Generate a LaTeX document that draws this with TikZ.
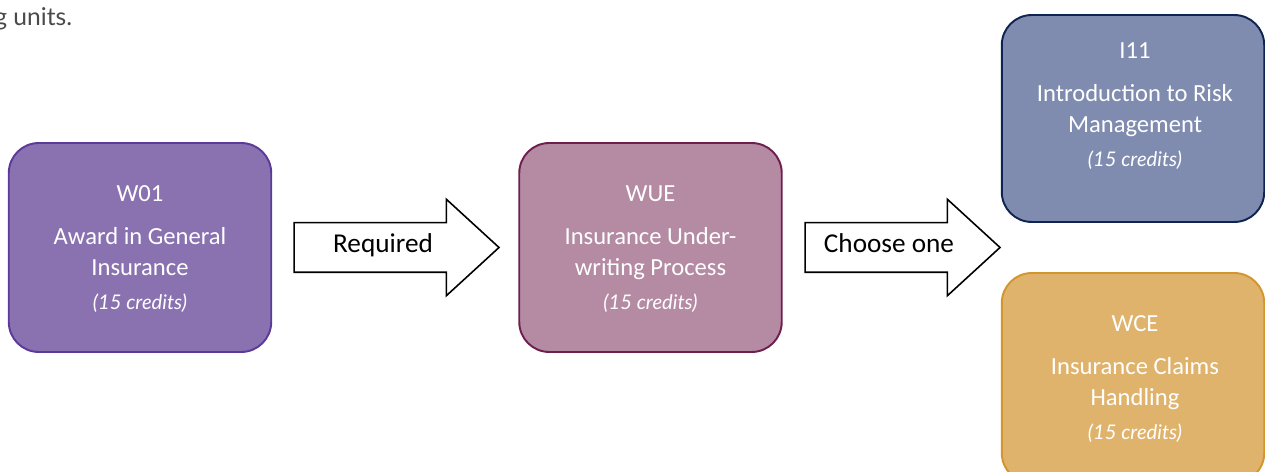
\documentclass[tikz,border=0pt]{standalone}
\usepackage{fontspec}
\setmainfont{Carlito}
\newfontfamily\credfont{Lato}
\usetikzlibrary{shapes.arrows}

\definecolor{awardfill}{HTML}{8A72B1}
\definecolor{awardline}{HTML}{5B3A99}
\definecolor{underfill}{HTML}{B48BA3}
\definecolor{underline}{HTML}{6E1F50}
\definecolor{riskfill}{HTML}{7F8CAF}
\definecolor{riskline}{HTML}{0F2452}
\definecolor{claimfill}{HTML}{DFB36C}
\definecolor{claimline}{HTML}{D4952F}
\definecolor{introgray}{HTML}{4A4A4A}

\tikzset{
  unitbox/.style={draw=#1line, fill=#1fill, line width=1.1pt,
    rounded corners=0.6cm, minimum width=5.25cm},
  unittext/.style={text=white, align=center,
    font=\fontsize{14}{17.5}\selectfont},
  bigarrow/.style={single arrow, draw=black, fill=white, line width=0.9pt,
    single arrow head extend=0.47cm, single arrow tip angle=85,
    text height=0.3cm, text depth=0.1cm, inner ysep=0.28cm,
    font=\fontsize{15.5}{18}\selectfont}
}
\newcommand{\credits}{\\[2pt]{\credfont\itshape\fontsize{11.5}{14}\selectfont (15 credits)}}

\begin{document}
\begin{tikzpicture}[x=0.02cm,y=-0.02cm]
\useasboundingbox (0,0) rectangle (1265,472);

\node[anchor=base west, text=introgray, inner sep=0pt,
  font=\credfont\fontsize{14}{17}\selectfont] (intro) at (-6,26) {g units.};

% unit boxes
\foreach \n/\c/\x/\y/\h in {w01/award/140/247.5/4.18, wue/under/650.5/247.5/4.18,
  i11/risk/1133/118.5/4.14, wce/claim/1133/378/4.2}
{
    \node[unitbox=\c, minimum height=\h cm] (\n) at (\x,\y) {};
}

\node[unittext] (w01txt) at (140,249) {W01\\[7pt]Award in General\\Insurance\credits};
\node[unittext] (wuetxt) at (650.5,249) {WUE\\[7pt]Insurance Under-\\writing Process\credits};
\node[unittext] (i11txt) at (1135,106.5) {I11\\[7pt]Introduction to Risk\\Management\credits};
\node[unittext] (wcetxt) at (1135,379) {WCE\\[7pt]Insurance Claims\\Handling\credits};

% connectors
\node[bigarrow, minimum height=4.1cm] (req) at (383,247.5) {Required};
\node[bigarrow, minimum height=3.9cm] (one) at (889,247.5) {Choose one};

\end{tikzpicture}
\end{document}
